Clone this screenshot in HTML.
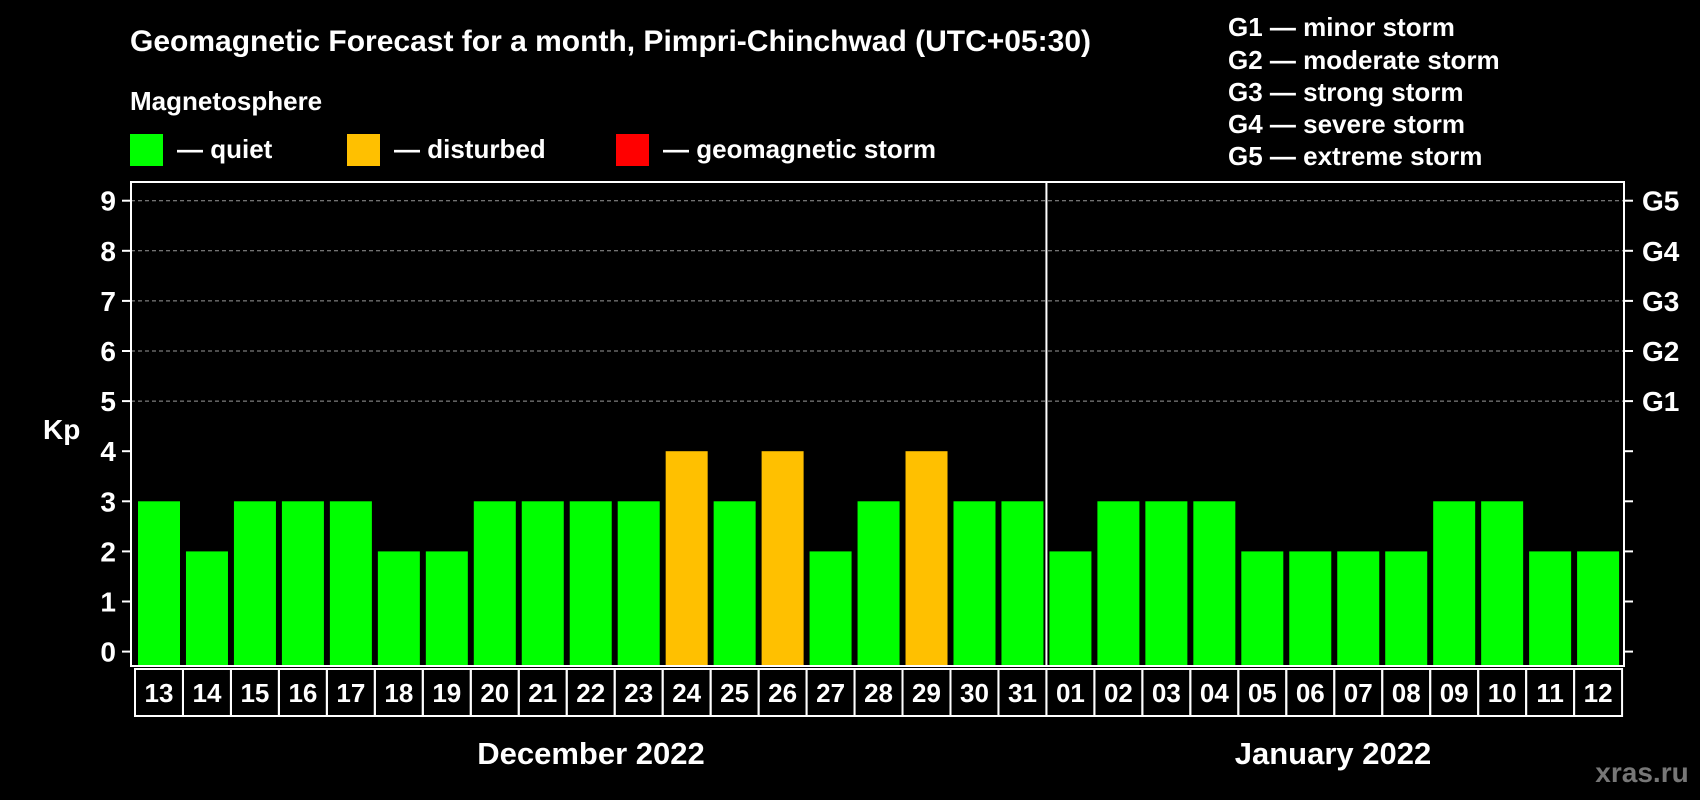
<!DOCTYPE html>
<html><head><meta charset="utf-8"><style>
html,body{margin:0;padding:0;background:#000;width:1700px;height:800px;overflow:hidden}
svg{display:block;font-family:"Liberation Sans",Arial,sans-serif;font-weight:bold}
</style></head><body>
<svg id="c" width="1700" height="800" viewBox="0 0 1700 800">
<text x="130" y="51" fill="#fff" font-size="30">Geomagnetic Forecast for a month, Pimpri-Chinchwad (UTC+05:30)</text>
<text x="130" y="110" fill="#fff" font-size="26">Magnetosphere</text>
<rect x="130" y="134" width="33" height="32" fill="#00ff00"/>
<text x="177" y="158" fill="#fff" font-size="26">— quiet</text>
<rect x="347" y="134" width="33" height="32" fill="#ffc000"/>
<text x="394" y="158" fill="#fff" font-size="26">— disturbed</text>
<rect x="616" y="134" width="33" height="32" fill="#ff0000"/>
<text x="663" y="158" fill="#fff" font-size="26">— geomagnetic storm</text>
<g fill="#fff" font-size="26">
<text x="1228" y="36">G1 — minor storm</text>
<text x="1228" y="69">G2 — moderate storm</text>
<text x="1228" y="101">G3 — strong storm</text>
<text x="1228" y="133">G4 — severe storm</text>
<text x="1228" y="165">G5 — extreme storm</text>
</g>
<text x="43" y="439" fill="#fff" font-size="28">Kp</text>
<text x="591" y="764" fill="#fff" font-size="31" text-anchor="middle">December 2022</text>
<text x="1333" y="764" fill="#fff" font-size="31" text-anchor="middle">January 2022</text>
<text x="1642" y="782" fill="#777" font-size="28" text-anchor="middle">xras.ru</text>
<g id="plot"></g>
</svg>
<script>
const days = ["13","14","15","16","17","18","19","20","21","22","23","24","25","26","27","28","29","30","31","01","02","03","04","05","06","07","08","09","10","11","12"];
const kpValues = [3,2,3,3,3,2,2,3,3,3,3,4,3,4,2,3,4,3,3,2,3,3,3,2,2,2,2,3,3,2,2];
const yTicks = [0,1,2,3,4,5,6,7,8,9];
const gLabels = ["","","","","","G1","G2","G3","G4","G5"];
const monthBreakIndex = 19;

const NS="http://www.w3.org/2000/svg";
const g=document.getElementById('plot');
const L=131,R=1624,T=182,B=666;
const y=v=>651.6-v*50.1;
const xb=i=>138+i*47.97;
function mk(t,a){const e=document.createElementNS(NS,t);for(const k in a)e.setAttribute(k,a[k]);g.appendChild(e);return e;}
yTicks.forEach((v,i)=>{
  if(v>=5){const l=mk('line',{x1:L,x2:R,y1:y(v),y2:y(v),stroke:'#999','stroke-dasharray':'4,3','stroke-width':1});
    
    }
  const t1=mk('line',{x1:L-9,x2:L,y1:y(v),y2:y(v),stroke:'#fff','stroke-width':2});
  
  
  const t2=mk('line',{x1:R,x2:R+9,y1:y(v),y2:y(v),stroke:'#fff','stroke-width':2});
  
  
  const lb=mk('text',{x:116,y:y(v)+10,fill:'#fff','font-size':28,'text-anchor':'end'});lb.textContent=v;
  
  
  if(gLabels[i]){const gl=mk('text',{x:1642,y:y(v)+10,fill:'#fff','font-size':28});gl.textContent=gLabels[i];
    
    }
});
kpValues.forEach((v,i)=>{
  const c=v>=5?'#ff0000':(v>=4?'#ffc000':'#00ff00');
  const r=mk('rect',{x:xb(i),y:y(v),width:42,height:B-y(v),fill:c});
  
  
  const bx=mk('rect',{x:135+i*47.97,y:669,width:47.97,height:47,fill:'none',stroke:'#fff','stroke-width':2});
  
  
  const t=mk('text',{x:159+i*47.97,y:702,fill:'#fff','font-size':26,'text-anchor':'middle'});t.textContent=days[i];
  
  
});
const fr=mk('rect',{x:L,y:T,width:R-L,height:B-T,fill:'none',stroke:'#fff','stroke-width':2});


const sx=xb(monthBreakIndex)-3;
const sep=mk('line',{x1:sx,x2:sx,y1:T,y2:B,stroke:'#fff','stroke-width':2});


</script>
</body></html>
